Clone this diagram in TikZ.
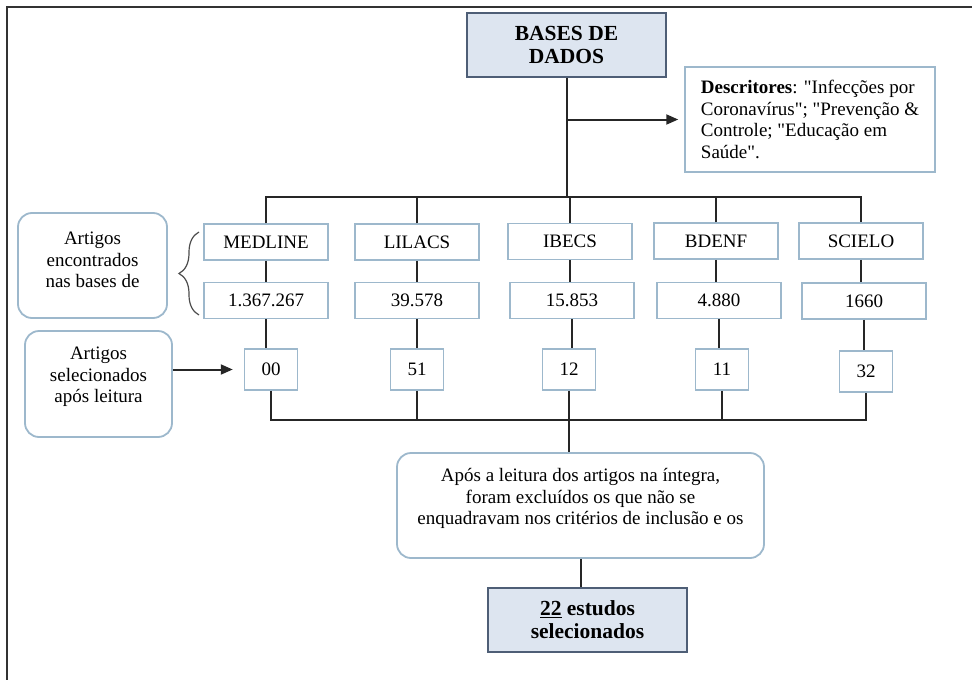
\documentclass[tikz,border=0pt]{standalone}
\usepackage{fontspec}
\setmainfont{Liberation Serif}
\usetikzlibrary{arrows.meta,decorations.pathreplacing}

\definecolor{boxline}{HTML}{9DB8CC}
\definecolor{headfill}{HTML}{DDE5F0}
\definecolor{headline}{HTML}{4E5E76}

\newcommand{\qt}{\textquotedbl}

\tikzset{
	conn/.style={line width=2pt, black!85},
	arr/.style={conn, -{Triangle[length=12pt,width=10pt]}},
	dbbox/.style={draw=boxline, line width=1.5pt, minimum width=124pt, minimum height=36pt, inner sep=0pt},
	selbox/.style={draw=boxline, line width=1.5pt, minimum width=53pt, minimum height=41pt, inner sep=0pt},
	headbox/.style={draw=headline, fill=headfill, line width=1.8pt, minimum width=199pt, minimum height=64pt, inner sep=0pt, align=center, font=\fontsize{21.5}{23}\selectfont\bfseries},
	roundbox/.style={draw=boxline, line width=1.8pt, rounded corners=14pt, inner sep=0pt},
	txt/.style={align=center, inner sep=0pt}
}

\begin{document}
\begin{tikzpicture}[x=1pt, y=-1pt, font=\fontsize{19}{21.5}\selectfont]
	\useasboundingbox (0,0) rectangle (972,680);
	% frame
	\draw[line width=2.5pt, black!80] (7,680) -- (7,7) -- (972,7);

	% top
	\node[headbox] (bases) at (566.5,45) {BASES DE\\DADOS};
	\node[draw=boxline, line width=1.5pt, minimum width=250pt, minimum height=105pt, inner sep=0pt, align=left] (desc) at (810,119.5)
		{\textbf{Descritores}: \qt Infecções por\\Coronavírus\qt; \qt Prevenção \&\\Controle; \qt Educação em\\Saúde\qt.};

	% bases
	\node[dbbox] (medline) at (266,242) {MEDLINE};
	\node[dbbox] (lilacs) at (417,242) {LILACS};
	\node[dbbox] (ibecs) at (570,241.5) {IBECS};
	\node[dbbox] (bdenf) at (716,241) {BDENF};
	\node[dbbox] (scielo) at (861,241) {SCIELO};

	% articles found
	\node[dbbox] (n1367) at (266,300.5) {1.367.267};
	\node[dbbox] (n39) at (417,300.5) {39.578};
	\node[dbbox] (n15) at (572,300.5) {15.853};
	\node[dbbox] (n4) at (719,300.5) {4.880};
	\node[dbbox] (n1660) at (864,301) {1660};

	% selected
	\node[selbox] (n00) at (271,369.5) {00};
	\node[selbox] (n51) at (417,369.5) {51};
	\node[selbox] (n12) at (569,369.5) {12};
	\node[selbox] (n11) at (722,369.5) {11};
	\node[selbox] (n32) at (866,371.5) {32};

	% left notes
	\node[roundbox, minimum width=149pt, minimum height=105pt] (found) at (92.5,265.5) {};
	\node[txt] (foundtxt) at (92.5,260) {Artigos\\encontrados\\nas bases de};
	\node[roundbox, minimum width=147pt, minimum height=106pt] (sel) at (98.5,384) {};
	\node[txt] (seltxt) at (98.5,377) {Artigos\\selecionados\\após leitura};

	% bottom
	\node[roundbox, minimum width=367pt, minimum height=105pt] (apos) at (580.5,505.5) {};
	\node[txt] (apostxt) at (580.5,498.5) {Após a leitura dos artigos na íntegra,\\foram excluídos os que não se\\enquadravam nos critérios de inclusão e os};
	\node[headbox] (res) at (587.5,620) {\underline{22} estudos\\selecionados};

	\coordinate (busT) at (567,197);
	\coordinate (busB) at (569,420);

	% connectors
	\draw[conn] (bases.south) -- (bases.south |- busT);
	\draw[arr, shorten >=6pt] (bases.south |- desc.west) -- (desc.west);
	\draw[conn] (medline.north) |- (busT) -| (scielo.north);
	\draw[conn] (lilacs.north) -- (lilacs.north |- busT);
	\draw[conn] (ibecs.north) -- (ibecs.north |- busT);
	\draw[conn] (bdenf.north) -- (bdenf.north |- busT);

	\draw[conn] (medline.south) -- (medline.south |- n1367.north);
	\draw[conn] (lilacs.south) -- (lilacs.south |- n39.north);
	\draw[conn] (ibecs.south) -- (ibecs.south |- n15.north);
	\draw[conn] (bdenf.south) -- (bdenf.south |- n4.north);
	\draw[conn] (scielo.south) -- (scielo.south |- n1660.north);

	\draw[conn] (n1367.south) -- (n1367.south |- n00.north);
	\draw[conn] (n39.south) -- (n39.south |- n51.north);
	\draw[conn] (n15.south) -- (n15.south |- n12.north);
	\draw[conn] (n4.south) -- (n4.south |- n11.north);
	\draw[conn] (n1660.south) -- (n1660.south |- n32.north);

	\draw[conn] (n00.south) |- (busB) -| (n32.south);
	\draw[conn] (n51.south) -- (n51.south |- busB);
	\draw[conn] (n11.south) -- (n11.south |- busB);
	\draw[conn] (n12.south) -- (n12.south |- apos.north);
	\draw[conn] (apos.south) -- (apos.south |- res.north);

	\draw[black!70, line width=1.2pt, decorate, decoration={brace, amplitude=20pt}] (199,315) -- (199,232);
	\draw[arr, shorten >=11pt] (sel.east |- n00.west) -- (n00.west);
\end{tikzpicture}
\end{document}
